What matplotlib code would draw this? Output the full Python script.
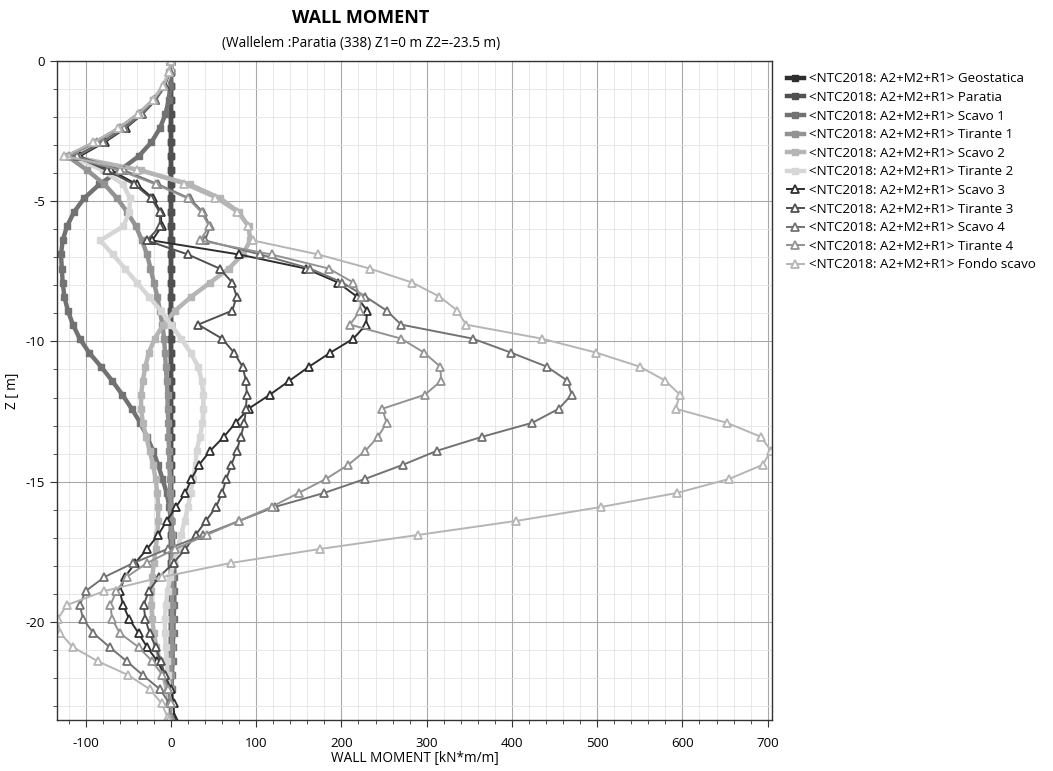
import numpy as np
import matplotlib.pyplot as plt

plt.rcParams['font.family'] = ['Open Sans', 'DejaVu Sans']
plt.rcParams['axes.unicode_minus'] = False

# profondita' dei nodi [m]
z = [0, -0.4, -0.9, -1.4, -1.9, -2.4, -2.9,
     -3.4, -3.9, -4.4, -4.9, -5.4, -5.9, -6.4,
     -6.9, -7.4, -7.9, -8.4, -8.9, -9.4, -9.9,
     -10.4, -10.9, -11.4, -11.9, -12.4, -12.9, -13.4,
     -13.9, -14.4, -14.9, -15.4, -15.9, -16.4, -16.9,
     -17.4, -17.9, -18.4, -18.9, -19.4, -19.9, -20.4,
     -20.9, -21.4, -21.9, -22.4, -22.9, -23.4, -23.5]

# momenti [kN*m/m]
geostatica = [0, 0, 0, 0, 0, 0, 0,
              0, 0, 0, 0, 0, 0, 0,
              0, 0, 0, 0, 0, 0, 0,
              0, 0, 0, 0, 0, 0, 0,
              0, 0, 0, 0, 0, 0, 0,
              0, 0, 0, 0, 0, 0, 0,
              0, 0, 0, 0, 0, 0, 0]
paratia = [0, 0, 0, 0, 0, 0, 0,
           0, 0, 0, 0, 0, 0, 0,
           0, 0, 0, 0, 0, 0, 0,
           0, 0, 0, 0, 0, 0, 0,
           0, 0, 0, 0, 0, 0, 0,
           0, 0, 0, 0, 0, 0, 0,
           0, 0, 0, 0, 0, 0, 0]
scavo1 = [0, -0.1, -0.8, -2.7, -6.5, -13, -23,
          -38, -60, -84, -102, -114, -122, -127,
          -129, -128, -127, -125, -121, -115, -107,
          -96, -82, -69, -57, -46, -36, -28,
          -21, -15, -10, -5, -2, 0, 2,
          3, 4, 4, 4, 4, 3, 3,
          2, 2, 1, 1, 0, 0, 0]
tirante1 = [0, -1.7, -8.5, -20.6, -37.8, -60, -88,
            -121, -98, -78, -63, -51, -41, -34,
            -28, -24, -20, -16, -13, -10, -8,
            -7, -6, -5, -4, -4, -3, -3,
            -2, -2, -1, -1, 0, 0, 1,
            1, 1, 1, 1, 1, 1, 1,
            1, 0, 0, 0, 0, 0, 0]
scavo2 = [0, -1.6, -8.3, -20, -36.8, -58.8, -85.8,
          -118, -35, 22, 58, 80, 91, 93,
          84, 68, 46, 24, 5, -9, -19,
          -26, -30, -33, -35, -35, -33, -29,
          -25, -21, -18, -16, -15, -15, -16,
          -18, -20, -22, -23, -23, -22, -20,
          -17, -13, -9, -5, -2, 0, 0]
tirante2 = [0, -1.6, -8, -19.6, -35.9, -57.3, -83.6,
            -115, -80, -56, -48, -49, -56, -83,
            -68, -54, -40, -26, -12, 0, 12,
            23, 32, 36, 38, 38, 37, 34,
            30, 29, 26, 23, 20, 16, 12,
            8, 3, -1, -4, -6, -7, -7,
            -6, -5, -4, -2, -1, 0, 0]
scavo3 = [0, -1.5, -7.5, -18.2, -33.4, -53.3, -77.8,
          -107, -70, -40, -21, -12, -11, -22,
          80, 158, 196, 218, 230, 229, 214,
          187, 162, 139, 116, 91, 76, 62,
          46, 33, 24, 17, 6, -5, -15,
          -28, -42, -54, -60, -56, -49, -38,
          -28, -16, -7, 0, 3, 4, 4]
tirante3 = [0, -1.5, -7.8, -19, -35, -55.8, -81.4,
            -112, -75, -43, -23, -13, -13, -28,
            20, 57, 72, 77, 72, 32, 60,
            74, 84, 88, 89, 88, 86, 82,
            77, 71, 65, 60, 53, 41, 29,
            17, 3, -14, -26, -32, -30, -25,
            -18, -12, -7, -3, -1, 0, 0]
scavo4 = [0, -1.5, -7.7, -18.7, -34.3, -54.8, -80,
          -110, -55, -15, 22, 38, 46, 40,
          105, 163, 201, 228, 253, 270, 354,
          399, 441, 465, 470, 455, 424, 365,
          312, 272, 228, 180, 122, 80, 38,
          -4, -44, -78, -100, -107, -103, -91,
          -72, -52, -33, -13, -2, 0, 0]
tirante4 = [0, -1.7, -8.4, -20.4, -37.4, -59.8, -87.2,
            -120, -60, -18, 20, 36, 45, 34,
            118, 185, 214, 223, 222, 210, 270,
            297, 316, 317, 298, 248, 253, 243,
            228, 208, 182, 150, 118, 80, 42,
            5, -28, -52, -64, -71, -69, -60,
            -38, -22, -10, -3, 0, 0, 0]
fondo_scavo = [0, -1.7, -8.8, -21.3, -39, -62.3, -90.9,
               -125, -40, 15, 52, 77, 90, 96,
               173, 233, 283, 315, 336, 346, 435,
               499, 550, 580, 597, 592, 652, 692,
               704, 694, 655, 594, 505, 405, 290,
               175, 70, -10, -78, -122, -133, -130,
               -115, -86, -50, -25, -11, -4, -2]

fasi = ["Geostatica", "Paratia", "Scavo 1", "Tirante 1", "Scavo 2", "Tirante 2",
        "Scavo 3", "Tirante 3", "Scavo 4", "Tirante 4", "Fondo scavo"]
serie = [geostatica, paratia, scavo1, tirante1, scavo2, tirante2,
         scavo3, tirante3, scavo4, tirante4, fondo_scavo]
grigi = ["#2e2e2e", "#505050", "#727272", "#939393", "#b5b5b5", "#d6d6d6",
         "#2e2e2e", "#505050", "#727272", "#939393", "#b5b5b5"]

fig = plt.figure(figsize=(10.53, 7.71), dpi=100)
ax = fig.add_axes([0.0541, 0.0661, 0.6790, 0.8548])

for i in range(len(fasi)):
    label = "<NTC2018: A2+M2+R1> " + fasi[i]
    if i < 6:
        ax.plot(serie[i], z, color=grigi[i], lw=3.2, marker='s', ms=4,
                mfc=grigi[i], mec=grigi[i], label=label)
    else:
        ax.plot(serie[i], z, color=grigi[i], lw=1.4, marker='^', ms=5.5,
                mfc='white', mec=grigi[i], mew=1.3, label=label)

ax.set_xlim(-133.7, 705)
ax.set_ylim(-23.5, 0)
ax.set_xticks(np.arange(-100, 701, 100))
ax.set_xticks(np.arange(-120, 705, 20), minor=True)
ax.set_yticks([0, -5, -10, -15, -20])
ax.set_yticks(np.arange(-23, 1, 1), minor=True)
ax.grid(True, which='major', color='#a8a8a8', lw=0.8)
ax.grid(True, which='minor', color='#e4e4e4', lw=0.6)
ax.set_axisbelow(True)
ax.tick_params(which='major', length=5, labelsize=9.5, color='#333333')
ax.tick_params(which='minor', length=3, color='#333333')
ax.tick_params(axis='x', which='major', pad=7)
for s in ax.spines.values():
    s.set_color('#333333')
    s.set_linewidth(1.0)

ax.set_xlabel("WALL MOMENT [kN*m/m]", fontsize=9.8, labelpad=1)
ax.set_ylabel("Z [ m]", fontsize=9.8, labelpad=4)

fig.text(0.343, 0.977, "WALL MOMENT", ha='center', va='center',
         fontsize=13, fontweight='bold')
fig.text(0.343, 0.943, "(Wallelem :Paratia (338) Z1=0 m Z2=-23.5 m)",
         ha='center', va='center', fontsize=9.8)

fig.legend(loc='upper left', bbox_to_anchor=(0.742, 0.913), frameon=False,
           fontsize=9.6, handlelength=1.3, handletextpad=0.4,
           labelspacing=0.42, borderaxespad=0)

plt.savefig("out.png", dpi=100)
